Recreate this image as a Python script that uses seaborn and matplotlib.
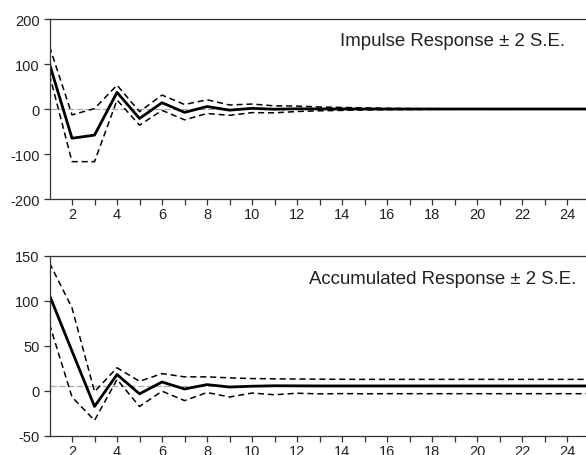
import numpy as np
import pandas as pd
import matplotlib.pyplot as plt
import seaborn as sns

# Impulse response chart (EViews style)
periods = list(range(1, 26))

imp_resp = [100, -65, -58, 37, -21, 14, -7.5, 5.5, -2.5, 1.5, -0.5, 0.5, 0.2, 0.1,
            0, 0, 0, 0, 0, 0, 0, 0, 0, 0, 0]
imp_upper = [139, -13, 1, 53, -6, 31, 10, 20.5, 9, 11, 7, 6.5, 4.5, 3.5, 2.5,
             1.5, 1, 0.7, 0.5, 0.3, 0.2, 0.1, 0.1, 0.1, 0.1]
imp_lower = [76, -117, -117, 20, -36, -3, -24, -10, -14, -8, -8.5, -5.5, -4, -3, -2,
             -1.5, -1, -0.7, -0.5, -0.3, -0.2, -0.1, -0.1, -0.1, -0.1]

acc_resp = [106, 44, -17.5, 18, -3.5, 9.7, 1.9, 6.8, 4.1, 5.0, 5.5, 5.4, 5.3, 5.3,
            5.3, 5.3, 5.3, 5.3, 5.3, 5.3, 5.3, 5.3, 5.3, 5.3, 5.3]
acc_upper = [142, 92, -1, 25.5, 10.5, 19, 15.4, 15.4, 14.3, 13.5, 13.2, 13, 12.8,
             12.7, 12.6, 12.6, 12.6, 12.6, 12.6, 12.6, 12.6, 12.6, 12.6, 12.6, 12.6]
acc_lower = [74, -7, -33, 12.5, -17.5, -0.5, -11, -2, -7, -2.6, -4.5, -2.8, -3.5,
             -3.2, -3.4, -3.3, -3.3, -3.3, -3.3, -3.3, -3.3, -3.3, -3.3, -3.3, -3.3]

imp_ref = 0
acc_ref = 4.8

sns.set_theme(style="ticks")
plt.rcParams['font.family'] = ['Liberation Sans', 'DejaVu Sans']
plt.rcParams['axes.unicode_minus'] = False

fig = plt.figure(figsize=(5.86, 4.56), dpi=100)
ax1 = fig.add_axes([0.0845, 0.5614, 0.9155, 0.3947])
ax2 = fig.add_axes([0.0845, 0.0423, 0.9155, 0.3947])


def panel(ax, resp, upper, lower, ref, title, yticks, ylim, tx, ty):
    df = pd.DataFrame({'period': periods, 'resp': resp, 'upper': upper, 'lower': lower})
    ax.axhline(ref, color='#a8a8a8', lw=0.9, ls=(0, (5, 2)), zorder=1)
    sns.lineplot(data=df, x='period', y='upper', ax=ax, color='black', lw=1.1,
                 linestyle=(0, (4, 2.5)))
    sns.lineplot(data=df, x='period', y='lower', ax=ax, color='black', lw=1.1,
                 linestyle=(0, (4, 2.5)))
    sns.lineplot(data=df, x='period', y='resp', ax=ax, color='black', lw=2.0)
    ax.set_xlim(1, 24.84)
    ax.set_ylim(*ylim)
    ax.set_xticks(range(2, 25, 2))
    ax.set_xticks(range(3, 25, 2), minor=True)
    ax.set_yticks(yticks)
    ax.set_xlabel('')
    ax.set_ylabel('')
    ax.tick_params(axis='both', which='both', direction='out', length=4, width=0.9,
                   color='#333333', labelsize=10.5, labelcolor='#222222')
    ax.tick_params(axis='x', pad=2)
    ax.tick_params(axis='y', pad=3)
    for s in ['left', 'top', 'bottom']:
        ax.spines[s].set_visible(True)
        ax.spines[s].set_color('#333333')
        ax.spines[s].set_linewidth(0.9)
    ax.spines['right'].set_visible(False)
    ax.text(tx, ty, title, transform=ax.transAxes, ha='right', va='center',
            fontsize=13.4, color='#222222')


panel(ax1, imp_resp, imp_upper, imp_lower, imp_ref, 'Impulse Response \u00b1 2 S.E.',
      [-200, -100, 0, 100, 200], (-200, 200), 0.961, 0.878)
panel(ax2, acc_resp, acc_upper, acc_lower, acc_ref, 'Accumulated Response \u00b1 2 S.E.',
      [-50, 0, 50, 100, 150], (-50, 150), 0.981, 0.871)

fig.savefig('out.png', dpi=100)
